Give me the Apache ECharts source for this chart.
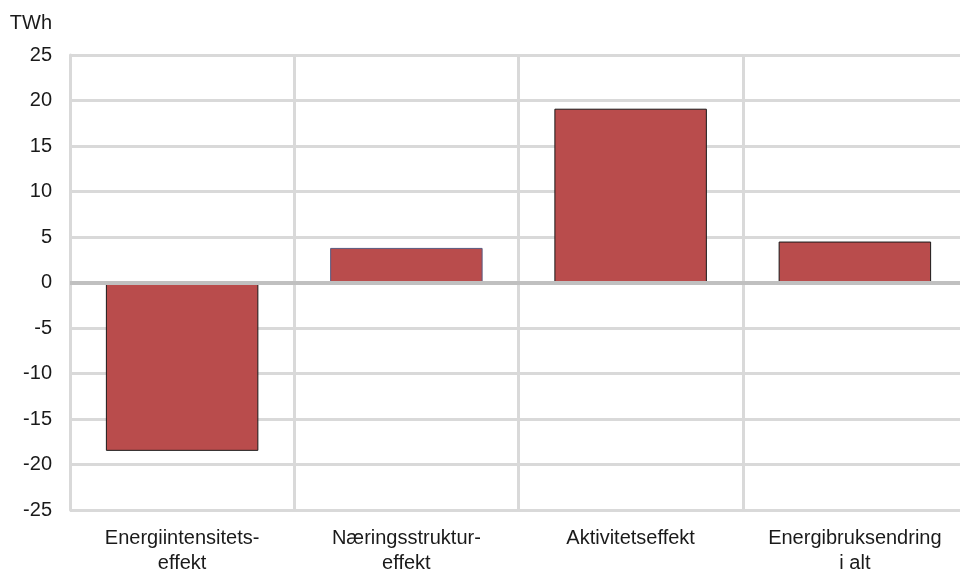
<!DOCTYPE html>
<html>
<head>
<meta charset="utf-8">
<script src="https://cdn.jsdelivr.net/npm/echarts@6/dist/echarts.min.js"></script>
<style>
  html, body { margin: 0; padding: 0; background: #fff; overflow: hidden; }
  /* the plot runs slightly past the right edge of the page */
  #chart { width: 970px; height: 576px; }
</style>
</head>
<body>
<div id="chart"></div>
<script>
// Dekomponering av endring i energibruk (TWh)
const categories = ['Energiintensitets-\neffekt', 'Næringsstruktur-\neffekt', 'Aktivitetseffekt', 'Energibruksendring\ni alt'];
const values = [-18.5, 3.8, 19.1, 4.5];
const borderColors = ['#1a1a1a', '#5b5b80', '#1a1a1a', '#1a1a1a'];

const font = 'Liberation Sans, Arial, sans-serif';
const chart = echarts.init(document.getElementById('chart'), null, { renderer: 'canvas' });

chart.setOption({
  animation: false,
  grid: { left: 70, top: 55, right: 3, bottom: 63, containLabel: false },
  xAxis: {
    type: 'category',
    data: categories,
    boundaryGap: true,
    axisLine: { show: false, onZero: false },
    axisTick: { show: false },
    axisLabel: {
      color: '#1a1a1a', fontFamily: font, fontSize: 20, lineHeight: 25, margin: 16, interval: 0
    },
    splitLine: { show: true, interval: 0, lineStyle: { color: '#d9d9d9', width: 3 } }
  },
  yAxis: {
    type: 'value',
    min: -25, max: 25, interval: 5,
    name: 'TWh',
    nameLocation: 'end',
    nameGap: 22,
    nameTextStyle: { color: '#1a1a1a', fontFamily: font, fontSize: 20, align: 'right', padding: [0, 18, 0, 0] },
    axisLine: { show: true, lineStyle: { color: '#d9d9d9', width: 3 } },
    axisTick: { show: false },
    axisLabel: { color: '#1a1a1a', fontFamily: font, fontSize: 20, margin: 18 },
    splitLine: { show: true, lineStyle: { color: '#d9d9d9', width: 3 } }
  },
  series: [{
    type: 'bar',
    barWidth: '68%',
    data: values.map((v, i) => ({
      value: v,
      itemStyle: { color: '#b94c4c', borderColor: borderColors[i], borderWidth: 1 }
    })),
    markLine: {
      silent: true,
      symbol: 'none',
      label: { show: false },
      lineStyle: { color: '#c0c0c0', width: 4, type: 'solid' },
      data: [{ yAxis: 0 }]
    }
  }]
});
</script>
</body>
</html>
